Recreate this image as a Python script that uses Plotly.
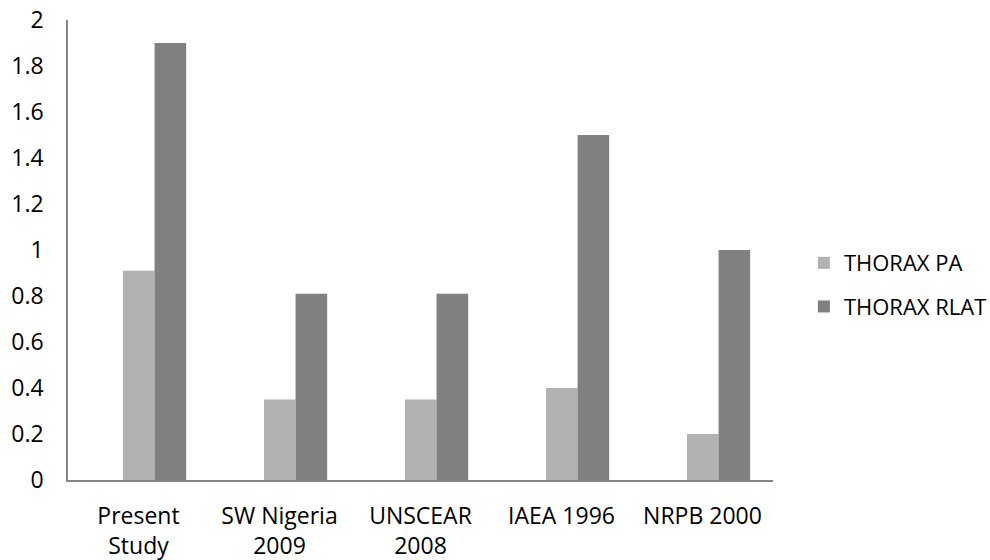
import plotly.graph_objects as go

categories = ["Present<br>Study", "SW Nigeria<br>2009", "UNSCEAR<br>2008", "IAEA 1996", "NRPB 2000"]
thorax_pa = [0.91, 0.35, 0.35, 0.40, 0.20]
thorax_rlat = [1.90, 0.81, 0.81, 1.50, 1.00]
y_ticks = [0, 0.2, 0.4, 0.6, 0.8, 1, 1.2, 1.4, 1.6, 1.8, 2]
y_tick_labels = ["0", "0.2", "0.4", "0.6", "0.8", "1", "1.2", "1.4", "1.6", "1.8", "2"]

font = dict(family="Open Sans", size=23, color="#000000")

fig = go.Figure()
fig.add_trace(go.Bar(x=categories, y=thorax_pa, name="THORAX PA",
                     width=0.224, offset=-0.11,
                     marker=dict(color="#b2b2b2", line=dict(width=0)), legendgroup="a"))
fig.add_trace(go.Bar(x=categories, y=thorax_rlat, name="THORAX RLAT",
                     width=0.224, offset=0.114,
                     marker=dict(color="#808080", line=dict(width=0)), legendgroup="b"))

fig.update_layout(
    width=990, height=560,
    margin=dict(l=68, r=217, t=20, b=80),
    paper_bgcolor="white", plot_bgcolor="white",
    barmode="overlay",
    font=font,
    legend=dict(xref="container", yref="container", x=0.812, y=0.491,
                xanchor="left", yanchor="middle",
                traceorder="grouped", tracegroupgap=12,
                font=dict(family="Open Sans", size=22, color="#000000")),
    xaxis=dict(showline=True, linecolor="#868686", linewidth=1.5, showgrid=False,
               ticks="", tickfont=font, ticklabelstandoff=15, automargin=False,
               ticklabeloverflow="allow"),
    yaxis=dict(range=[0, 2], tickvals=y_ticks, ticktext=y_tick_labels,
               showline=True, linecolor="#868686", linewidth=1.5, showgrid=False,
               zeroline=False, ticks="", tickfont=font, ticklabelstandoff=18,
               automargin=False, ticklabeloverflow="allow"),
)

fig.write_html("out.html", config={"displayModeBar": False},
               post_script="document.body.style.margin='0';")
